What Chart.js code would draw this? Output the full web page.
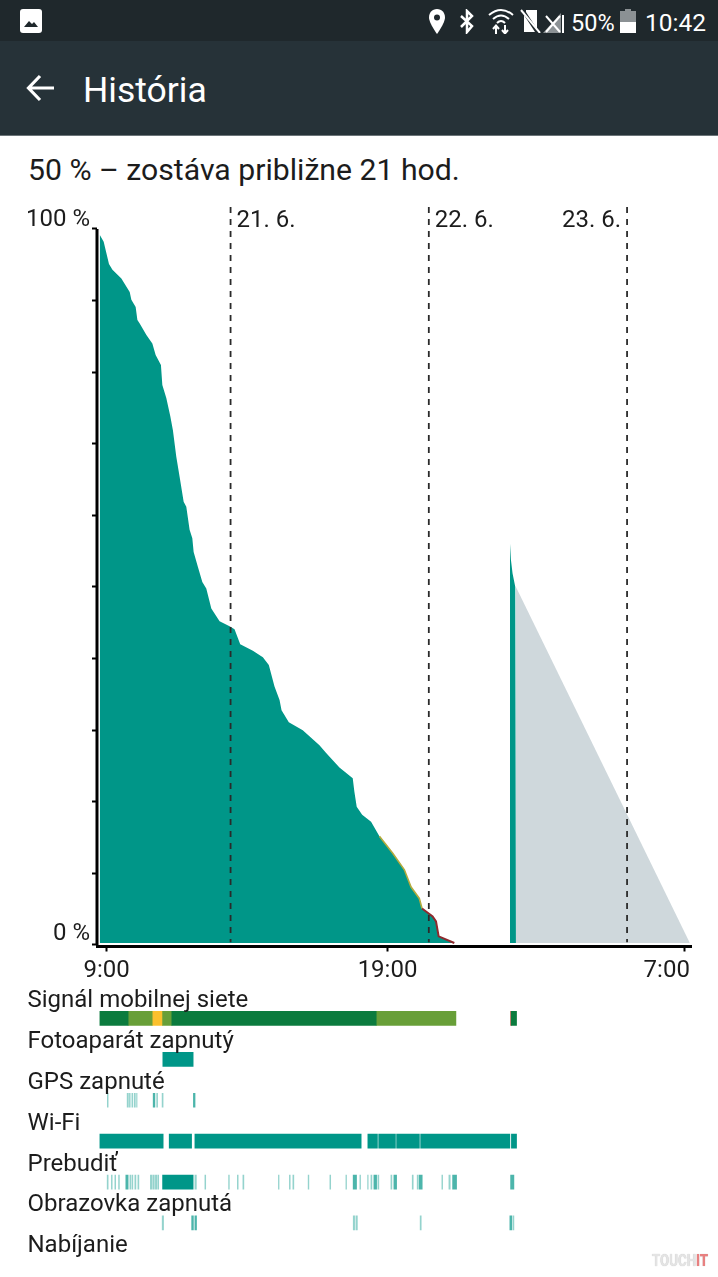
<!doctype html>
<html>
<head>
<meta charset="UTF-8">
<title>História</title>
<script src="https://cdn.jsdelivr.net/npm/chart.js@4/dist/chart.umd.js"></script>
<style>
html, body { margin:0; padding:0; width:718px; height:1277px; overflow:hidden; background:#fff; font-family:Roboto, sans-serif; color:#1c1c1c; }
canvas { position:absolute; left:0; }
#status { position:absolute; left:0; top:0; width:718px; height:41px; background:#1f282c; color:#fff; }
#status span { position:absolute; top:9px; line-height:28px; }
#status svg { position:absolute; }
#bar { position:absolute; left:0; top:41px; width:718px; height:94px; background:#263238; border-bottom:1px solid #6b7478; color:#fff; }
#bar svg { position:absolute; left:26px; top:33px; }
#bar div { position:absolute; left:83px; top:27px; font-size:35.5px; line-height:44px; }
#sub { position:absolute; left:28px; top:151px; font-size:30.2px; line-height:38px; white-space:nowrap; }
#mark { position:absolute; left:652px; top:1252px; font-size:16px; line-height:18px; font-weight:bold; color:#e4e4e4; text-shadow:0 0 1px #bbb; white-space:nowrap; transform:scaleX(0.83); transform-origin:left top; }
#mark b { color:#e88080; }
</style>
</head>
<body>

<div id="status">
  <svg style="left:20px;top:9px" width="22" height="24" viewBox="0 0 22 24"><rect x="0" y="0" width="22" height="24" rx="3" fill="#fff"/><path d="M4 18 L9 12 L12 15 L14 13 L18 18 Z" fill="#1f282c"/></svg>
  <svg style="left:428px;top:9px" width="18" height="25" viewBox="0 0 18 25"><path d="M9 0 C4 0 1 4 1 8.500 C1 14 9 25 9 25 C9 25 17 14 17 8.500 C17 4 14 0 9 0 Z" fill="#fff"/><circle cx="9" cy="8.500" r="3" fill="#1f282c"/></svg>
  <svg style="left:459px;top:9px" width="16" height="25" viewBox="0 0 16 25"><path d="M2 7 L13 17 L8 23 L8 2 L13 7 L2 18" fill="none" stroke="#fff" stroke-width="2.500"/></svg>
  <svg style="left:488px;top:8px" width="26" height="26" viewBox="0 0 26 26"><path d="M1 7 Q13 -3 25 7 M5 11 Q13 4 21 11 M9 15 Q13 11 17 15" fill="none" stroke="#fff" stroke-width="2"/><path d="M8 26 V19 M5 21 L8 17.500 L11 21 M17 17 V24 M14 22 L17 25.500 L20 22" fill="none" stroke="#fff" stroke-width="2"/></svg>
  <svg style="left:520px;top:9px" width="22" height="24" viewBox="0 0 22 24"><path d="M6 1 H17 V20 L6 3 Z M4 6 L15 23 H4 Z" fill="#fff"/><path d="M1 1 L20 24" stroke="#fff" stroke-width="2"/></svg>
  <svg style="left:543px;top:13px" width="22" height="20" viewBox="0 0 22 20"><path d="M0 20 L18 0 V20 Z" fill="#8b9194"/><path d="M3 3 L17 19 M17 3 L3 19" stroke="#fff" stroke-width="2"/><path d="M20 2 V20" stroke="#fff" stroke-width="2"/></svg>
  <span style="left:571px;font-size:23.500px">50%</span>
  <svg style="left:620px;top:9px" width="16" height="24" viewBox="0 0 16 24"><rect x="5" y="0" width="6" height="3" fill="#8b9194"/><rect x="0" y="2" width="16" height="11" fill="#8b9194"/><rect x="0" y="13" width="16" height="11" fill="#fff"/></svg>
  <span style="left:645px;font-size:24.500px">10:42</span>
</div>

<div id="bar">
  <svg width="30" height="28" viewBox="0 0 30 28"><path d="M28 14 H3 M14 2 L2.500 14 L14 26" fill="none" stroke="#fff" stroke-width="3.200"/></svg>
  <div>História</div>
</div>

<div id="sub">50 % – zostáva približne 21 hod.</div>

<canvas id="batteryChart" width="718" height="985" style="top:0"></canvas>
<canvas id="rowChart" width="718" height="300" style="top:985px"></canvas>

<div id="mark">TOUCH<b>IT</b></div>

<script>
// hours counted from midnight of 21. 6., battery in percent
var levelHours = [-15.84,-15.84,-15.36,-15.03,-14.72,-14.30,-13.22,-12.21,-12.01,-11.49,-11.28,-11.00,-10.19,-9.47,-9.07,-8.43,-8.26,-7.78,-7.29,-6.98,-6.57,-6.17,-5.68,-5.36,-4.96,-4.63,-4.47,-3.95,-3.42,-2.94,-2.33,-1.33,-0.12,0.48,1.17,2.70,3.91,4.63,5.32,5.93,6.17,7.05,8.74,10.76,11.57,13.18,14.79,14.99,15.27,15.93,17.01,18.02,19.63,21.04,21.85,22.85,23.18,24.46,24.87,25.19,27.09];
var levelValues = [100,99.2,98.2,96.6,95.1,94.3,93.1,91.2,90.1,89.1,87.3,86.8,85.2,84.0,82.4,81.0,78.2,76.4,73.8,71.9,68.2,65.4,61.9,61.2,58.0,56.8,54.9,52.8,50.7,49.8,47.0,45.2,44.5,44.1,42.0,41.1,40.2,39.1,36.1,34.2,32.8,31.1,30.0,27.9,26.8,24.8,23.3,21.4,19.3,18.2,17.2,15.2,12.8,10.5,8.1,6.5,5.1,4.0,3.3,1.2,0.28];

var yellowHours = [18.02,19.63,21.04,21.85,22.85,23.18];
var yellowValues = [15.2,12.8,10.5,8.1,6.5,5.1];
var redHours = [23.18,24.46,24.87,25.19,27.09];
var redValues = [5.1,4.0,3.3,1.2,0.28];

var chargeHours = [33.82,33.94,34.14,34.47,34.55];
var chargeValues = [56.2,53.8,51.9,50.0,50.0];
var predictHours = [34.55,55.6];
var predictValues = [50.0,0.28];

var percentTicks = [0,10,20,30,40,50,60,70,80,90,100];
var percentLabels = {0:"0 %",100:"100 %"};
var timeTicks = [-15,19,55];
var timeLabels = ["9:00","19:00","7:00"];
var dayHours = [0,24,48];
var dayLabels = ["21. 6.","22. 6.","23. 6."];

var rowNames = ["Signál mobilnej siete","Fotoaparát zapnutý","GPS zapnuté","Wi-Fi","Prebudiť","Obrazovka zapnutá","Nabíjanie"];
var signalStrong = [[-15.82,-12.40],[-7.11,17.63],[33.98,34.62]];
var signalMedium = [[-12.40,-9.49],[-8.23,-7.11],[17.63,27.28]];
var signalWeak = [[-9.49,-8.23]];
var signalBad = [[33.90,33.98]];
var cameraSpans = [[-8.20,-4.53]];
var gpsSpans = [[-14.92,-14.82],[-12.52,-12.37],[-12.25,-12.15],[-11.95,-11.83],[-11.65,-11.53],[-11.38,-11.32],[-9.37,-9.16],[-8.95,-8.83],[-8.29,-8.17],[-4.50,-4.30]];
var wifiSpans = [[-15.82,-8.16],[-7.43,-4.72],[-4.32,15.81],[16.62,17.78],[17.93,19.96],[20.10,22.86],[23.01,33.81],[34.00,34.62]];
var wakeSpans = [[-14.94,-14.82],[-14.43,-14.33],[-14.01,-13.91],[-13.56,-13.46],[-12.68,-12.40],[-12.19,-12.09],[-11.95,-11.83],[-11.59,-11.46],[-11.22,-11.10],[-9.71,-9.53],[-9.41,-9.23],[-9.10,-8.92],[-8.80,-8.70],[-8.23,-4.53],[-4.32,-4.14],[-3.11,-3.01],[-0.24,-0.15],[0.82,0.92],[1.49,1.61],[5.79,5.87],[7.12,7.22],[7.54,7.66],[9.39,9.48],[12.02,12.12],[13.96,14.04],[14.84,15.25],[15.65,15.74],[16.59,16.66],[16.99,17.11],[17.35,17.68],[17.83,17.95],[19.41,19.53],[19.77,20.10],[21.99,22.11],[22.59,22.71],[22.83,23.20],[25.58,25.67],[26.43,26.59],[26.88,27.36],[33.90,34.30]];
var screenSpans = [[-8.28,-8.11],[-4.71,-4.50],[-4.32,-4.12],[14.85,15.02],[15.17,15.35],[22.95,23.08],[33.81,34.06],[34.21,34.30]];

var TEAL = "#009688";
var TEAL_MID = "rgba(0,150,136,0.7)";
var TEAL_FAINT = "rgba(0,150,136,0.42)";
var GREY = "#cfd8dc";
var XMIN = -16.17, XMAX = 55.74;

function points(xs, ys){
    var out = [];
    for(var i=0;i<xs.length;i++){ out.push({x:xs[i], y:ys[i]}); }
    return out;
}

function area(xs, ys, color){
    return {data:points(xs,ys), borderWidth:0, backgroundColor:color, fill:{value:0.28}, pointRadius:0, tension:0};
}

function edge(xs, ys, color, w){
    return {data:points(xs,ys), borderWidth:w, borderColor:color, fill:false, pointRadius:0, tension:0};
}

function text(ctx, str, x, y, align, size){
    ctx.font = size + "px Roboto";
    ctx.fillStyle = "#1c1c1c";
    ctx.textAlign = align;
    ctx.textBaseline = "middle";
    ctx.fillText(str, x, y);
}

// the tick labels sit off their ticks in the original, so they are placed here
var batteryLabels = {
    id:"batteryLabels",
    afterDraw:function(chart){
        var ctx = chart.ctx, xs = chart.scales.x, ys = chart.scales.y;
        ctx.save();
        text(ctx, percentLabels[100], 90, ys.getPixelForValue(100)-8.5, "right", 24);
        text(ctx, percentLabels[0], 90, ys.getPixelForValue(0)-10.5, "right", 24);
        text(ctx, timeLabels[0], xs.getPixelForValue(timeTicks[0]), 971, "center", 24);
        text(ctx, timeLabels[1], xs.getPixelForValue(timeTicks[1]), 971, "center", 24);
        text(ctx, timeLabels[2], xs.getPixelForValue(timeTicks[2])+5, 971, "right", 24);
        text(ctx, dayLabels[0], xs.getPixelForValue(dayHours[0])+6, 221, "left", 24);
        text(ctx, dayLabels[1], xs.getPixelForValue(dayHours[1])+6, 221, "left", 24);
        text(ctx, dayLabels[2], xs.getPixelForValue(dayHours[2])-6, 221, "right", 24);
        ctx.restore();
    }
};

var rowLabels = {
    id:"rowLabels",
    afterDraw:function(chart){
        var ctx = chart.ctx, ys = chart.scales.y;
        ctx.save();
        for(var i=0;i<rowNames.length;i++){
            text(ctx, rowNames[i], 27.5, ys.getPixelForValue(i)-17.5, "left", 24);
        }
        ctx.restore();
    }
};

var dashes = dayHours.map(function(h){
    var d = edge([h,h],[103.07,0.4],"#2a2a2a",1.8);
    d.borderDash = [6,6];
    return d;
});

var spine = edge([XMIN,XMIN],[100,0],"#000",3);
spine.clip = false;

new Chart(document.getElementById("batteryChart"), {
    type:"line",
    data:{
        datasets:dashes.concat([
            edge(redHours,redValues,"#8e2a2e",2),
            edge(yellowHours,yellowValues,"#b3ab3e",1.6),
            spine,
            area(levelHours,levelValues,TEAL),
            area(chargeHours,chargeValues,TEAL),
            area(predictHours,predictValues,GREY)
        ])
    },
    plugins:[batteryLabels],
    options:{
        responsive:false,
        animation:false,
        devicePixelRatio:1,
        layout:{padding:{top:207,right:27,left:0,bottom:0}},
        plugins:{legend:{display:false},tooltip:{enabled:false}},
        scales:{
            x:{
                type:"linear", min:XMIN, max:XMAX,
                afterBuildTicks:function(s){ s.ticks = timeTicks.map(function(v){ return {value:v}; }); },
                afterFit:function(s){ s.height = 38.5; },
                ticks:{display:false},
                grid:{drawOnChartArea:false, drawTicks:true, tickLength:5, tickColor:"#000", tickWidth:2},
                border:{display:true, color:"#000", width:3}
            },
            y:{
                type:"linear", min:-0.21, max:103.07,
                afterBuildTicks:function(s){ s.ticks = percentTicks.map(function(v){ return {value:v}; }); },
                afterFit:function(s){ s.width = 97; },
                ticks:{display:false},
                grid:{drawOnChartArea:false, drawTicks:true, tickLength:5, tickColor:"#000", tickWidth:2},
                border:{display:false}
            }
        }
    }
});

// one floating bar per span, all laid over each other in their row
// short spans come out pale in the original, so they get a paler teal
var rowSets = [];
function addRow(row, spans, color){
    spans.forEach(function(span){
        var c = color;
        if(color == TEAL && span[1]-span[0] < 0.2){ c = TEAL_FAINT; }
        else if(color == TEAL && span[1]-span[0] < 0.5){ c = TEAL_MID; }
        rowSets.push({
            data:rowNames.map(function(n,i){ return i==row ? span : null; }),
            backgroundColor:c,
            grouped:false,
            barThickness:14,
            borderWidth:0
        });
    });
}
addRow(0, signalStrong, "#0b7b3e");
addRow(0, signalMedium, "#689f38");
addRow(0, signalWeak, "#fbc02d");
addRow(0, signalBad, "#c0564a");
addRow(1, cameraSpans, TEAL);
addRow(2, gpsSpans, TEAL);
addRow(3, wifiSpans, TEAL);
addRow(4, wakeSpans, TEAL);
addRow(5, screenSpans, TEAL);

new Chart(document.getElementById("rowChart"), {
    type:"bar",
    data:{labels:rowNames, datasets:rowSets},
    plugins:[rowLabels],
    options:{
        indexAxis:"y",
        responsive:false,
        animation:false,
        devicePixelRatio:1,
        layout:{padding:{top:13,right:27,left:97,bottom:0.7}},
        plugins:{legend:{display:false},tooltip:{enabled:false}},
        scales:{
            x:{type:"linear", min:XMIN, max:XMAX, display:false},
            y:{type:"category", display:false}
        }
    }
});
</script>
</body>
</html>
